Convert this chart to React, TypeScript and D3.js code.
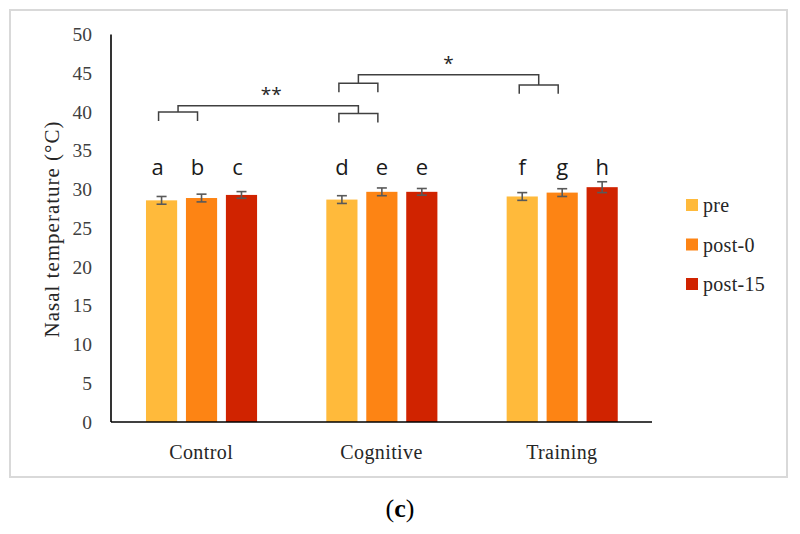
import React from "react";
import * as d3 from "d3";

const categories = ["Control", "Cognitive", "Training"];
const seriesNames = ["pre", "post-0", "post-15"];
const seriesColors = ["#FFBA3B", "#FD8414", "#D02300"];
const preValues = [28.6, 28.7, 29.1];
const post0Values = [28.9, 29.7, 29.6];
const post15Values = [29.3, 29.7, 30.3];
const preErrors = [0.5, 0.5, 0.5];
const post0Errors = [0.5, 0.5, 0.5];
const post15Errors = [0.43, 0.43, 0.7];
const letterLabels = [["a", "b", "c"], ["d", "e", "e"], ["f", "g", "h"]];
const yTicks = [0, 5, 10, 15, 20, 25, 30, 35, 40, 45, 50];
// significance brackets: [group1, group2, level at group1, level at group2, apex, label]
const bracketFrom = [0, 1];
const bracketTo = [1, 2];
const bracketLevelFrom = [40.0, 43.7];
const bracketLevelTo = [39.8, 43.5];
const bracketApex = [40.8, 44.8];
const bracketLabels = ["**", "*"];

const W = 800;
const H = 534;

export default function App() {
  const y = d3.scaleLinear().domain([0, 50]).range([422, 34.5]);
  const x = d3.scaleBand().domain(categories).range([111, 652]).padding(0);
  const bw = x.bandwidth();
  const inner = d3
    .scaleBand()
    .domain(seriesNames)
    .range([bw * 0.194, bw * 0.81])
    .paddingInner(0.22);
  const allValues = [preValues, post0Values, post15Values];
  const allErrors = [preErrors, post0Errors, post15Errors];
  const barCenter = (ci: number, si: number) =>
    (x(categories[ci]) as number) + (inner(seriesNames[si]) as number) + inner.bandwidth() / 2;

  const serif = "'Liberation Serif', 'Times New Roman', serif";
  const sans = "'Open Sans', 'Liberation Sans', sans-serif";
  const legendY = d3.scalePoint().domain(seriesNames).range([205, 284]);
  const bracketDrop = 1.15;

  return (
    <svg
      width={W}
      height={H}
      style={{ position: "absolute", left: 0, top: 0, background: "#fff" }}
    >
      <rect x={0} y={0} width={W} height={H} fill="#fff" />
      <rect x={10} y={10} width={777} height={467} fill="none" stroke="#d9d9d9" strokeWidth={2} />

      {/* y tick labels */}
      {yTicks.map((t) => (
        <text
          key={t}
          x={92}
          y={y(t)}
          textAnchor="end"
          dominantBaseline="central"
          fontFamily={serif}
          fontSize={19.5}
          fill="#404040"
        >
          {t}
        </text>
      ))}

      {/* y axis title */}
      <text
        transform={`translate(52,229) rotate(-90)`}
        textAnchor="middle"
        dominantBaseline="central"
        fontFamily={serif}
        fontSize={21}
        fill="#262626"
        letterSpacing={1}
      >
        Nasal temperature (°C)
      </text>

      {/* bars */}
      {categories.map((c, ci) =>
        seriesNames.map((s, si) => {
          const v = allValues[si][ci];
          const bx = (x(c) as number) + (inner(s) as number);
          return (
            <rect
              key={c + s}
              x={bx}
              y={y(v)}
              width={inner.bandwidth()}
              height={y(0) - y(v)}
              fill={seriesColors[si]}
            />
          );
        })
      )}

      {/* error bars */}
      {categories.map((c, ci) =>
        seriesNames.map((s, si) => {
          const v = allValues[si][ci];
          const e = allErrors[si][ci];
          const cx = barCenter(ci, si);
          return (
            <g key={"e" + c + s} stroke="#595959" strokeWidth={1.6}>
              <line x1={cx} x2={cx} y1={y(v + e)} y2={y(v - e)} />
              <line x1={cx - 5} x2={cx + 5} y1={y(v + e)} y2={y(v + e)} />
              <line x1={cx - 5} x2={cx + 5} y1={y(v - e)} y2={y(v - e)} />
            </g>
          );
        })
      )}

      {/* letters */}
      {categories.map((c, ci) =>
        seriesNames.map((s, si) => (
          <text
            key={"l" + c + s}
            x={barCenter(ci, si) - (ci === 0 ? 4 : 0)}
            y={175}
            textAnchor="middle"
            fontFamily={sans}
            fontSize={22}
            fill="#1a1a1a"
          >
            {letterLabels[ci][si]}
          </text>
        ))
      )}

      {/* axes */}
      <line x1={111} x2={111} y1={y(50)} y2={y(0)} stroke="#000" strokeWidth={1.6} />
      <line x1={111} x2={652} y1={y(0)} y2={y(0)} stroke="#000" strokeWidth={1.6} />

      {/* category labels */}
      {categories.map((c) => (
        <text
          key={"c" + c}
          x={(x(c) as number) + bw / 2}
          y={459}
          textAnchor="middle"
          fontFamily={serif}
          fontSize={20}
          fill="#262626"
          letterSpacing={0.4}
        >
          {c}
        </text>
      ))}

      {/* brackets */}
      {bracketLabels.map((lab, bi) => {
        const g1 = bracketFrom[bi];
        const g2 = bracketTo[bi];
        const l1 = barCenter(g1, 0) - 3;
        const r1 = barCenter(g1, 1) - 4;
        const l2 = barCenter(g2, 0) - 3;
        const r2 = barCenter(g2, 1) - 4;
        const m1 = (l1 + r1) / 2;
        const m2 = (l2 + r2) / 2;
        const y1 = y(bracketLevelFrom[bi]);
        const y2 = y(bracketLevelTo[bi]);
        const ya = y(bracketApex[bi]);
        const path1 = `M${l1},${y(bracketLevelFrom[bi] - bracketDrop)}V${y1}H${r1}V${y(
          bracketLevelFrom[bi] - bracketDrop
        )}`;
        const path2 = `M${l2},${y(bracketLevelTo[bi] - bracketDrop)}V${y2}H${r2}V${y(
          bracketLevelTo[bi] - bracketDrop
        )}`;
        const path3 = `M${m1},${y1}V${ya}H${m2}V${y2}`;
        return (
          <g key={"b" + bi} fill="none" stroke="#404040" strokeWidth={1.5}>
            <path d={path1} />
            <path d={path2} />
            <path d={path3} />
            <text
              x={(m1 + m2) / 2 + (bi === 0 ? 3 : 0)}
              y={ya - 5}
              textAnchor="middle"
              fontFamily={sans}
              fontSize={19}
              fill="#262626"
              stroke="none"
            >
              {lab}
            </text>
          </g>
        );
      })}

      {/* legend */}
      {seriesNames.map((s, si) => (
        <g key={"lg" + s}>
          <rect x={686} y={(legendY(s) as number) - 6} width={12} height={12} fill={seriesColors[si]} />
          <text
            x={703}
            y={legendY(s) as number}
            dominantBaseline="central"
            fontFamily={serif}
            fontSize={20}
            fill="#262626"
            letterSpacing={0.3}
          >
            {s}
          </text>
        </g>
      ))}

      {/* panel label */}
      <text
        x={400}
        y={517}
        textAnchor="middle"
        fontFamily={serif}
        fontSize={26}
        fill="#000"
      >
        (<tspan fontWeight="bold">c</tspan>)
      </text>
    </svg>
  );
}
